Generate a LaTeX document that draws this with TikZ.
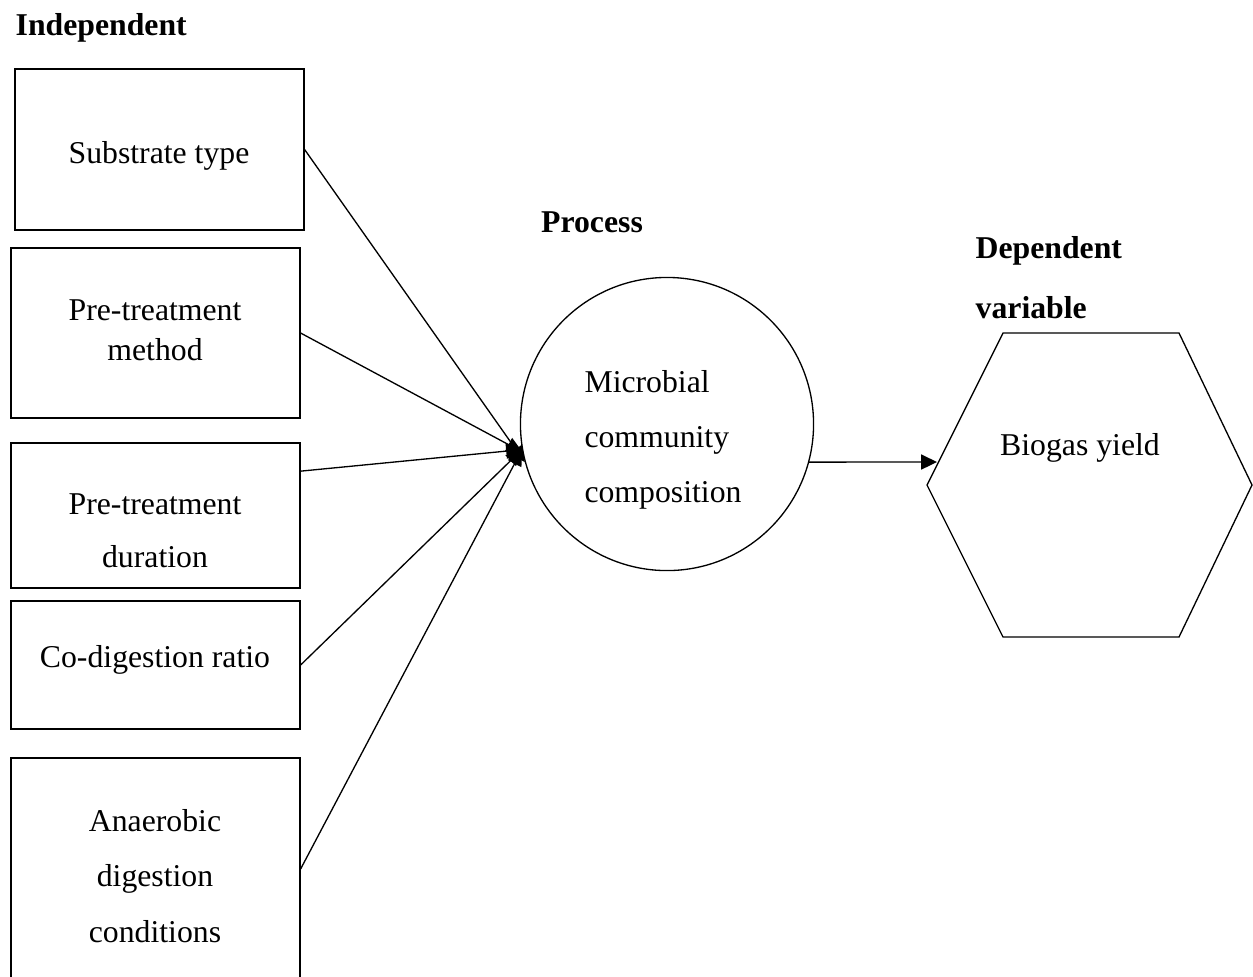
\documentclass[tikz,border=0pt]{standalone}
\usepackage{fontspec}
\setmainfont{Liberation Serif}
\usetikzlibrary{arrows.meta}
\tikzset{box/.style = {draw, rectangle, minimum width=109.2pt, inner sep=0pt},
  txt/.style = {align=center, inner sep=0pt, font=\fontsize{12}{21}\selectfont},
  head/.style = {align=left, inner sep=0pt, font=\fontsize{12}{22.7}\selectfont\bfseries},
  arr/.style = {-{Triangle[length=6pt, width=5.7pt]}}}

\begin{document}
\begin{tikzpicture}[x=0.378pt, y=-0.378pt, line width=0.5pt]
\useasboundingbox (0,0) rectangle (1253,976);
\node[head, anchor=west] (ind) at (15,28) {Independent};
\node[head] (prc) at (592,222) {Process};
\node[head, anchor=west] (dep) at (975,278) {Dependent\\variable};
\node[box, minimum height=60.9pt] (sub) at (159.5,149.5) {};
\node[box, minimum height=64.3pt] (meth) at (155.5,333) {};
\node[box, minimum height=54.8pt] (dur) at (155.5,515.5) {};
\node[box, minimum height=48.4pt] (ratio) at (155.5,665) {};
\node[box, minimum height=83.9pt] (cond) at (155.5,869) {};
\node[txt] (subt) at (159,156) {Substrate type};
\node[txt, font=\fontsize{12}{15.1}\selectfont] (metht) at (155,330) {Pre-treatment\\method};
\node[txt, font=\fontsize{12}{20}\selectfont] (durt) at (155,531) {Pre-treatment\\duration};
\node[txt] (ratiot) at (155,660) {Co-digestion ratio};
\node[txt] (condt) at (155,876) {Anaerobic\\digestion\\conditions};
\node[draw, circle, minimum size=110.8pt, inner sep=0pt] (proc) at (667,424) {};
\node[txt, align=left, font=\fontsize{12}{20.8}\selectfont] (proct) at (663,440) {Microbial\\community\\composition};
\draw (1003,333) -- (1179,333) -- (1252,485) -- (1179,637) -- (1003,637) -- (927,485) -- cycle;
\node[txt] (yld) at (1080,448) {Biogas yield};
\coordinate (yin) at (937,462);
\draw[arr] (sub.east) -- (proc.195);
\draw[arr] (meth.east) -- (proc.191);
\draw[arr] (dur.17.5) -- (proc.190);
\draw[arr] (ratio.east) -- (proc.190);
\draw[arr] (cond.east) -- (proc.190);
\draw[arr] (proc.-15) -- (yin);
\end{tikzpicture}
\end{document}
